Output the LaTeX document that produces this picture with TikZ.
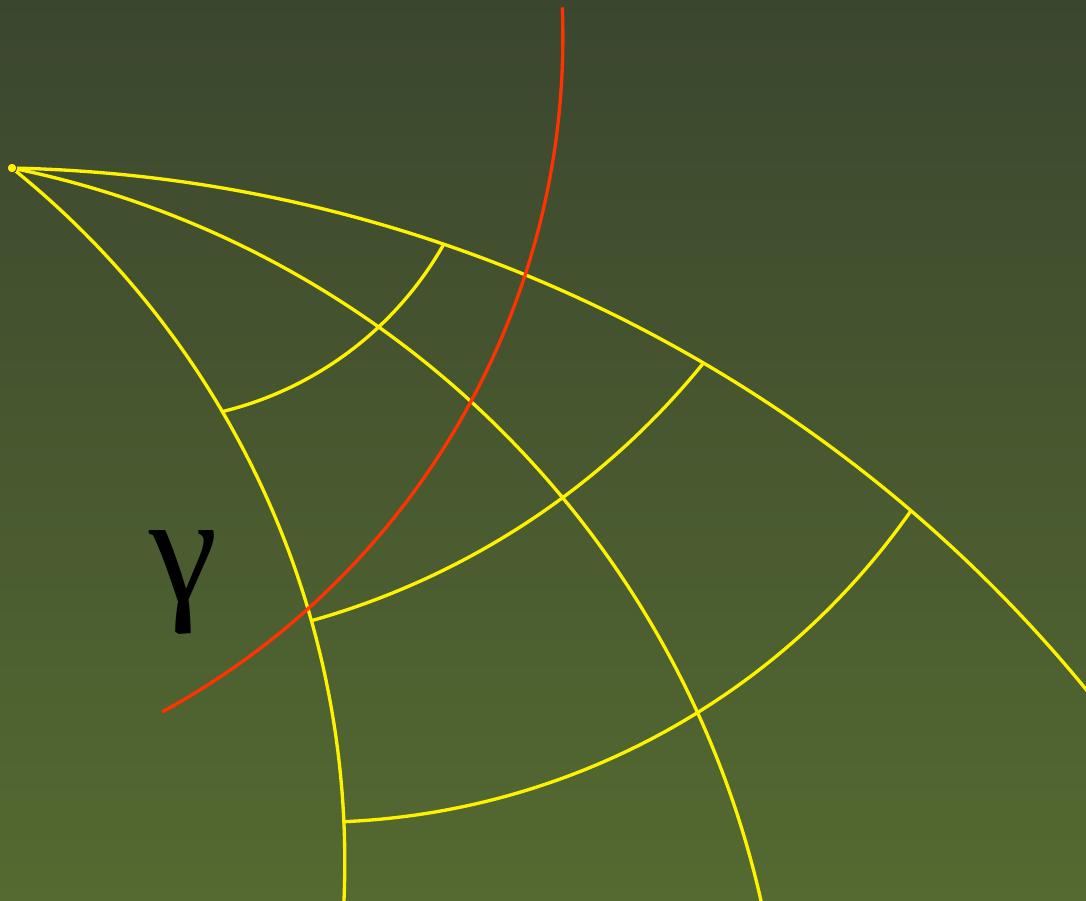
\documentclass[tikz,border=0pt]{standalone}
\usepackage{amsmath}
\usepackage{fontspec}
\usepackage{tikz}
\newfontfamily\greekserif{Liberation Serif}
\definecolor{bgtop}{RGB}{59,70,47}
\definecolor{bgbottom}{RGB}{84,106,48}
\definecolor{geoyellow}{RGB}{255,242,0}
\definecolor{curvered}{RGB}{255,51,0}

\begin{document}
\begin{tikzpicture}[x=0.02cm, y=-0.02cm]
    \tikzstyle{geodesic} = [draw=geoyellow, line width=1.9pt]
    \tikzstyle{circlearc} = [draw=geoyellow, line width=1.9pt]
    \tikzstyle{redcurve} = [draw=curvered, line width=1.9pt]
    \tikzstyle{base} = [circle, draw=black!75, fill=geoyellow, inner sep=0pt, minimum size=5.5pt, line width=0.5pt]

    \shade[top color=bgtop, bottom color=bgbottom] (0,0) rectangle (1086,900);
    \useasboundingbox (0,0) rectangle (1086,900);
    \clip (0,0) rectangle (1086,900);

    % radial geodesics from the base point
    \path[geodesic] (-17.07,1594.8) ++(-88.83:1427.1) arc[start angle=-88.83, end angle=-37, radius=1427.1];
    \path[geodesic] (-180.02,1113.48) ++(-78.52:964.8) arc[start angle=-78.52, end angle=-11.5, radius=964.8];
    \path[geodesic] (-545.4,862.1) ++(-51.24:890.2) arc[start angle=-51.24, end angle=4, radius=890.2];

    % geodesic circles
    \path[circlearc] (139.67,72.01) ++(76.42:349.5) arc[start angle=76.42, end angle=29.67, radius=349.5];
    \path[circlearc] (101.83,-125.17) ++(74.28:774.8) arc[start angle=74.28, end angle=39.08, radius=774.8];
    \path[circlearc] (312.25,91.5) ++(87.47:730.9) arc[start angle=87.47, end angle=35.0, radius=730.9];

    % the curve
    \path[redcurve] (-205.79,37.03) ++(-2.22:768.7) arc[start angle=-2.22, end angle=61.41, radius=768.7];

    \node[base] (origin) at (12,168) {};
    \node[anchor=base] (gamma) at (184,601) {\fontsize{88}{88}\selectfont\greekserif γ};
\end{tikzpicture}
\end{document}
